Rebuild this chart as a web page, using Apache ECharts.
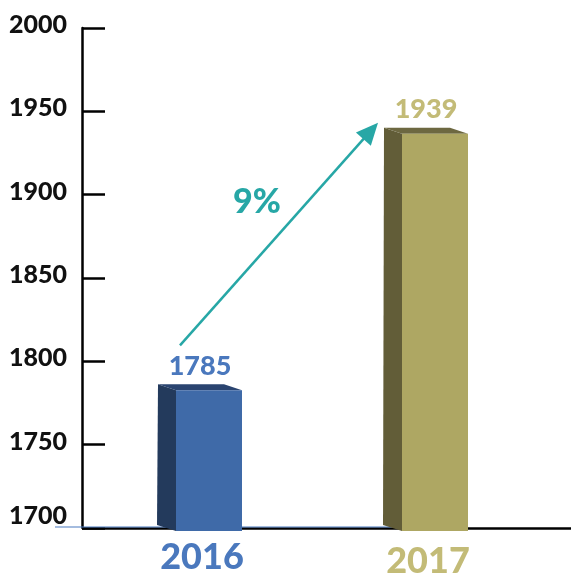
<!DOCTYPE html>
<html>
<head>
<meta charset="utf-8">
<script src="https://cdn.jsdelivr.net/npm/echarts@6/dist/echarts.min.js"></script>
<style>
  html, body { margin: 0; padding: 0; background: #fff; }
  #chart { width: 571px; height: 574px; }
</style>
</head>
<body>
<div id="chart"></div>
<script>
// Yearly totals
const years = ['2016', '2017'];
const totals = [1785, 1939];
const growthLabel = '9%';

// Value axis range
const axisMin = 1700;
const axisMax = 2000;
const axisStep = 50;

// Colours for each year's block: front face, side face, top face, label
const palette = [
  { front: '#3f6aa8', side: '#233a5c', top: '#2a4470', label: '#4a78bd' },
  { front: '#aea763', side: '#625d38', top: '#6d6841', label: '#c3bb77' }
];
const arrowColor = '#27a7a6';
const FONT = 'Lato';
const WEIGHT = 900;

const chart = echarts.init(document.getElementById('chart'));

// A bar drawn as a simple box: side face on the left, a thin top, and the front face
function renderBlock(params, api) {
  const cat = api.value(0);
  const val = api.value(1);
  const top = api.coord([cat, val]);
  const base = api.coord([cat, axisMin]);
  const cx = top[0];
  const yv = top[1];
  const yb = base[1];
  const c = palette[params.dataIndex];
  return {
    type: 'group',
    children: [
      {
        type: 'polygon',
        shape: { points: [[cx - 44, yv - 2], [cx - 26, yv + 4], [cx - 26, yb + 3], [cx - 45, yb - 3]] },
        style: { fill: c.side }
      },
      {
        type: 'polygon',
        shape: { points: [[cx - 44, yv - 2], [cx + 22, yv - 2], [cx + 40, yv + 4], [cx - 26, yv + 4]] },
        style: { fill: c.top }
      },
      {
        type: 'rect',
        shape: { x: cx - 26, y: yv + 4, width: 66, height: yb - yv - 1 },
        style: { fill: c.front }
      },
      {
        type: 'text',
        x: cx - 2,
        y: yv - 20,
        style: {
          text: String(val),
          fill: c.label,
          font: WEIGHT + ' 27px ' + FONT,
          align: 'center',
          verticalAlign: 'middle'
        }
      }
    ]
  };
}

// Growth arrow from the first year's label up to the second year's block
function renderArrow(params, api) {
  const p0 = api.coord([api.value(0), api.value(1)]);
  const p1 = api.coord([api.value(2), api.value(3)]);
  const start = [p0[0] - 22, p0[1] - 41];
  const tip = [p1[0] - 50, p1[1] - 7];
  const dx = tip[0] - start[0];
  const dy = tip[1] - start[1];
  const len = Math.sqrt(dx * dx + dy * dy);
  const ux = dx / len, uy = dy / len;
  const head = 22, half = 10;
  const bx = tip[0] - ux * head, by = tip[1] - uy * head;
  const nx = -uy, ny = ux;
  const mid = [(start[0] + tip[0]) / 2, (start[1] + tip[1]) / 2];
  return {
    type: 'group',
    children: [
      {
        type: 'line',
        shape: { x1: start[0], y1: start[1], x2: bx + ux * 2, y2: by + uy * 2 },
        style: { stroke: arrowColor, lineWidth: 2.5 }
      },
      {
        type: 'polygon',
        shape: { points: [tip, [bx + nx * half, by + ny * half], [bx - nx * half, by - ny * half]] },
        style: { fill: arrowColor }
      },
      {
        type: 'text',
        x: mid[0] - 22,
        y: mid[1] - 32,
        style: {
          text: growthLabel,
          fill: arrowColor,
          font: WEIGHT + ' 34px ' + FONT,
          align: 'center',
          verticalAlign: 'middle'
        }
      }
    ]
  };
}

const option = {
  animation: false,
  backgroundColor: '#fff',
  grid: { left: 89, right: 30, top: 28, bottom: 46, outerBoundsMode: 'none' },
  xAxis: {
    type: 'category',
    data: years,
    axisLine: { show: false },
    axisTick: { show: false },
    axisLabel: {
      margin: 11,
      formatter: (v, i) => '{y' + i + '|' + v + '}',
      rich: {
        y0: { color: palette[0].label, fontSize: 36, fontWeight: WEIGHT, fontFamily: FONT },
        y1: { color: palette[1].label, fontSize: 36, fontWeight: WEIGHT, fontFamily: FONT, padding: [4, 0, 0, 0] }
      }
    }
  },
  yAxis: {
    type: 'value',
    min: axisMin,
    max: axisMax,
    interval: axisStep,
    offset: 7,
    axisLine: { show: true, lineStyle: { color: '#000', width: 2.5 } },
    axisTick: { show: true, inside: true, length: 23, lineStyle: { color: '#000', width: 2.5 } },
    splitLine: { show: false },
    axisLabel: {
      margin: 15,
      formatter: v => (v === axisMin ? '{low|' + v + '}' : '{n|' + v + '}'),
      rich: {
        n: { color: '#111', fontSize: 25, fontWeight: WEIGHT, fontFamily: FONT, padding: [0, 0, 6, 0] },
        low: { color: '#111', fontSize: 25, fontWeight: WEIGHT, fontFamily: FONT, padding: [0, 0, 24, 0] }
      }
    }
  },
  series: [
    {
      type: 'custom',
      renderItem: renderBlock,
      data: years.map((y, i) => [i, totals[i]]),
      z: 3
    },
    {
      type: 'custom',
      renderItem: renderArrow,
      data: [[0, totals[0], 1, totals[1]]],
      z: 4
    }
  ]
};

chart.setOption(option);

// Baseline rules along the bottom of the value axis
const yBase = chart.convertToPixel({ yAxisIndex: 0 }, axisMin);
const axisX = 82;
chart.setOption({
  graphic: [
    {
      type: 'line',
      shape: { x1: axisX, y1: yBase + 0.5, x2: 571, y2: yBase + 0.5 },
      style: { stroke: '#000', lineWidth: 2.5 },
      z: 1
    },
    {
      type: 'line',
      shape: { x1: 55, y1: yBase - 1, x2: 418, y2: yBase - 1 },
      style: { stroke: '#4a7abf', lineWidth: 1.2 },
      z: 1
    }
  ]
});
</script>
</body>
</html>
